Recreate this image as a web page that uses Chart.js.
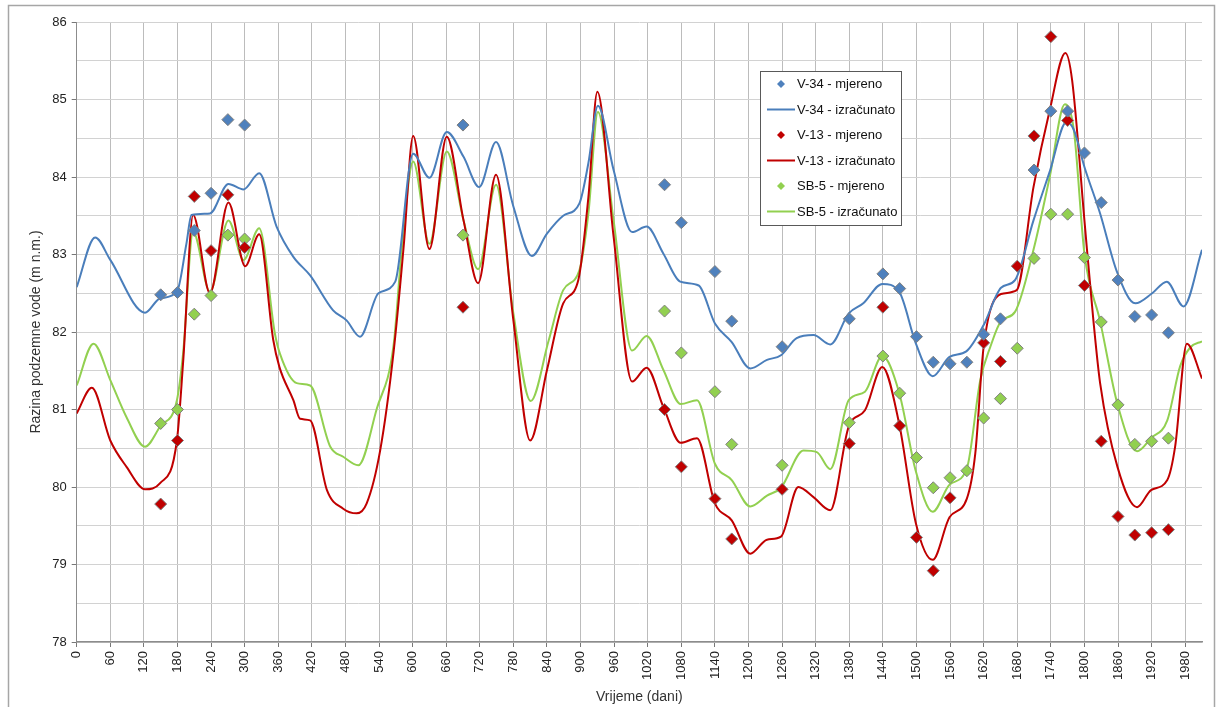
<!DOCTYPE html>
<html>
<head>
<meta charset="utf-8">
<script src="https://cdn.jsdelivr.net/npm/chart.js@4.4.1/dist/chart.umd.min.js"></script>
<style>
  html, body { margin: 0; padding: 0; background: #fff; }
  #wrap { width: 1216px; height: 707px; position: relative; }
</style>
</head>
<body>
<div id="wrap"><canvas id="c" width="1216" height="707"></canvas></div>
<script>
// ---------- DATA ----------
const xTickStep = 60;          // days between labelled ticks
const yTickStep = 0.5;         // m between gridlines

// measured (mjereno)
const measDaysV34 = [150,180,210,240,270,300,690,1050,1080,1140,1170,1260,1380,1440,1470,1500,1530,1560,1590,1620,1650,1710,1740,1770,1800,1830,1860,1890,1920,1950];
const measV34     = [82.48,82.51,83.31,83.79,84.74,84.67,84.67,83.90,83.41,82.78,82.14,81.81,82.17,82.75,82.56,81.94,81.61,81.59,81.61,81.97,82.17,84.09,84.85,84.85,84.31,83.67,82.67,82.20,82.22,81.99];

const measDaysV13 = [150,180,210,240,270,300,690,1050,1080,1140,1170,1260,1380,1440,1470,1500,1530,1560,1620,1650,1680,1710,1740,1770,1800,1830,1860,1890,1920,1950];
const measV13     = [79.78,80.60,83.75,83.05,83.77,83.09,82.32,81.00,80.26,79.85,79.33,79.97,80.56,82.32,80.79,79.35,78.92,79.86,81.86,81.62,82.85,84.53,85.81,84.73,82.60,80.59,79.62,79.38,79.41,79.45];

const measDaysSB5 = [150,180,210,240,270,300,690,1050,1080,1140,1170,1260,1380,1440,1470,1500,1530,1560,1590,1620,1650,1680,1710,1740,1770,1800,1830,1860,1890,1920,1950];
const measSB5     = [80.82,81.00,82.23,82.47,83.25,83.20,83.25,82.27,81.73,81.23,80.55,80.28,80.83,81.69,81.21,80.38,79.99,80.12,80.21,80.89,81.14,81.79,82.95,83.52,83.52,82.96,82.13,81.06,80.55,80.59,80.63];

// calculated (izračunato)
const calcDaysV34 = [0,33,60,122,148,179,196,205,238,271,298,326,357,387,417,458,482,506,539,569,601,630,661,691,719,749,780,813,840,869,898,914,931,959,992,1018,1048,1078,1111,1140,1170,1203,1233,1258,1286,1316,1346,1379,1405,1439,1469,1499,1529,1559,1589,1620,1651,1676,1709,1738,1768,1781,1800,1828,1858,1891,1921,1947,1977,2010];
const calcV34     = [82.58,83.22,82.93,82.25,82.43,82.52,83.14,83.51,83.53,83.91,83.84,84.05,83.36,82.97,82.73,82.28,82.15,81.94,82.50,82.65,84.30,83.99,84.58,84.26,83.87,84.45,83.62,82.98,83.27,83.50,83.66,84.18,84.92,84.09,83.29,83.36,83.01,82.65,82.60,82.11,81.87,81.53,81.64,81.70,81.92,81.96,81.84,82.24,82.37,82.62,82.52,81.85,81.43,81.68,81.75,82.09,82.57,82.67,83.44,84.07,84.71,84.61,84.13,83.53,82.78,82.37,82.50,82.65,82.33,83.06];

const calcDaysV13 = [0,27,60,89,122,149,179,190,208,238,271,301,326,351,362,387,399,417,447,476,500,518,542,566,584,601,630,661,691,717,749,780,810,840,869,896,914,930,959,992,1018,1048,1079,1108,1140,1170,1203,1233,1258,1289,1316,1346,1379,1408,1439,1469,1499,1529,1559,1590,1605,1620,1651,1679,1709,1738,1766,1778,1800,1816,1828,1859,1894,1919,1948,1962,1983,2010];
const calcV13     = [80.95,81.28,80.60,80.26,79.97,80.05,80.60,81.60,83.51,82.50,83.67,82.85,83.26,81.90,81.55,81.12,80.88,80.86,79.96,79.72,79.66,79.79,80.47,81.74,83.10,84.53,83.07,84.52,83.44,82.63,84.03,82.15,80.60,81.51,82.37,82.67,83.74,85.10,83.23,81.36,81.54,81.03,80.57,80.63,79.79,79.57,79.14,79.32,79.36,80.00,79.87,79.70,80.78,80.99,81.55,80.82,79.53,79.06,79.61,79.85,80.43,81.81,82.49,82.54,83.87,84.86,85.60,85.25,83.44,82.15,81.34,80.26,79.74,79.96,80.09,80.52,81.85,81.40];

const calcDaysSB5 = [0,30,60,89,122,149,179,190,208,238,271,298,326,354,363,393,417,453,476,503,536,566,581,601,630,661,691,717,749,780,811,843,869,898,914,931,959,992,1018,1048,1079,1108,1140,1170,1203,1233,1258,1298,1322,1346,1379,1408,1439,1469,1499,1529,1559,1590,1614,1632,1651,1676,1709,1738,1765,1781,1800,1828,1859,1894,1919,1948,1971,1989,2010];
const calcSB5     = [81.31,81.85,81.38,80.90,80.52,80.78,81.12,81.72,83.29,82.52,83.44,82.93,83.34,81.98,81.72,81.34,81.31,80.52,80.39,80.28,81.01,81.83,83.10,84.20,83.14,84.33,83.44,82.81,83.90,82.24,81.11,81.89,82.54,82.80,83.53,84.84,83.44,81.76,81.95,81.51,81.07,81.12,80.30,80.09,79.75,79.89,79.99,80.47,80.45,80.23,81.12,81.23,81.69,81.22,80.20,79.68,80.03,80.24,81.38,81.81,82.14,82.26,83.06,84.00,84.94,84.61,83.01,82.14,81.07,80.46,80.63,80.86,81.56,81.80,81.88];

const seriesLabels = ['V-34 - mjereno','V-34 - izračunato','V-13 - mjereno','V-13 - izračunato','SB-5 - mjereno','SB-5 - izračunato'];
const xTitle = 'Vrijeme (dani)';
const yTitle = 'Razina podzemne vode (m n.m.)';

// ---------- STYLE ----------
const FONT = '"Liberation Sans", Arial, sans-serif';
const cBlue = '#4A7EBB', cRed = '#C00000', cGreen = '#92D050';
const mBlue = '#4F81BD';

function pts(xs, ys) { return xs.map((x, i) => ({ x: x, y: ys[i] })); }

function measured(label, xs, ys, col) {
  return {
    label: label, data: pts(xs, ys), showLine: false,
    pointStyle: 'rectRot', pointRadius: 6, pointHoverRadius: 6,
    pointBackgroundColor: col, pointBorderColor: '#808080', pointBorderWidth: 1,
    backgroundColor: col, borderColor: col, order: 0
  };
}
function calculated(label, xs, ys, col) {
  return {
    label: label, data: pts(xs, ys), borderColor: col, backgroundColor: col,
    borderWidth: 2, pointRadius: 0, fill: false,
    cubicInterpolationMode: 'monotone', order: 1
  };
}

const boxLegend = {
  id: 'boxLegend',
  afterDraw(chart) {
    const ctx = chart.ctx;
    const x0 = 760.5, y0 = 71.5, w = 141, h = 154;
    ctx.save();
    ctx.fillStyle = '#ffffff';
    ctx.fillRect(x0, y0, w, h);
    ctx.strokeStyle = '#595959';
    ctx.lineWidth = 1;
    ctx.strokeRect(x0, y0, w, h);
    chart.data.datasets.forEach((ds, i) => {
      const cy = 84 + i * 25.5;
      if (ds.showLine === false) {
        const r = 4;
        ctx.beginPath();
        ctx.moveTo(781, cy - r); ctx.lineTo(781 + r, cy); ctx.lineTo(781, cy + r); ctx.lineTo(781 - r, cy); ctx.closePath();
        ctx.fillStyle = ds.pointBackgroundColor; ctx.fill();
      } else {
        ctx.beginPath(); ctx.moveTo(767, cy); ctx.lineTo(795, cy);
        ctx.strokeStyle = ds.borderColor; ctx.lineWidth = 2; ctx.stroke();
      }
      ctx.fillStyle = '#111';
      ctx.font = '13px ' + FONT;
      ctx.textBaseline = 'middle';
      ctx.textAlign = 'left';
      ctx.fillText(ds.label, 797, cy + 0.5);
    });
    ctx.restore();
  }
};

const frame = {
  id: 'frame',
  beforeDraw(chart) {
    const ctx = chart.ctx;
    ctx.save();
    ctx.fillStyle = '#fff';
    ctx.fillRect(0, 0, chart.width, chart.height);
    ctx.strokeStyle = '#a6a6a6';
    ctx.lineWidth = 1.5;
    ctx.strokeRect(8.5, 5.5, 1206, 720);
    ctx.restore();
  }
};

new Chart(document.getElementById('c'), {
  type: 'line',
  data: {
    datasets: [
      measured(seriesLabels[0], measDaysV34, measV34, mBlue),
      calculated(seriesLabels[1], calcDaysV34, calcV34, cBlue),
      measured(seriesLabels[2], measDaysV13, measV13, cRed),
      calculated(seriesLabels[3], calcDaysV13, calcV13, cRed),
      measured(seriesLabels[4], measDaysSB5, measSB5, cGreen),
      calculated(seriesLabels[5], calcDaysSB5, calcSB5, cGreen)
    ]
  },
  options: {
    responsive: false,
    animation: false,
    devicePixelRatio: 1,
    layout: { padding: { left: 28, right: 14, top: 22, bottom: 1 } },
    plugins: { legend: { display: false }, tooltip: { enabled: false } },
    scales: {
      x: {
        type: 'linear', min: 0, max: 2010,
        ticks: {
          stepSize: xTickStep, includeBounds: false, autoSkip: false,
          maxRotation: 90, minRotation: 90, padding: 4,
          font: { family: FONT, size: 13 }, color: '#222',
          callback: v => String(v)
        },
        grid: { color: '#bcbcbc', lineWidth: 1, tickLength: 5, tickColor: '#777' },
        border: { color: '#8c8c8c', width: 1.5 },
        title: { display: true, text: xTitle, color: '#333', font: { family: FONT, size: 14 }, padding: 0 },
        afterFit(s) { s.height = 64; }
      },
      y: {
        type: 'linear', min: 78, max: 86,
        ticks: {
          stepSize: yTickStep, includeBounds: false, padding: 5,
          font: { family: FONT, size: 13 }, color: '#222',
          callback: v => Number.isInteger(v) ? String(v) : ''
        },
        grid: {
          color: '#d2d2d2', lineWidth: 1, tickLength: 5,
          tickColor: c => (c.tick && Number.isInteger(c.tick.value)) ? '#777' : 'rgba(0,0,0,0)'
        },
        border: { color: '#8c8c8c', width: 1 },
        title: { display: true, text: yTitle, color: '#333', font: { family: FONT, size: 14 }, padding: 0 },
        afterFit(s) { s.width = 48.7; }
      }
    }
  },
  plugins: [frame, boxLegend]
});
</script>
</body>
</html>
